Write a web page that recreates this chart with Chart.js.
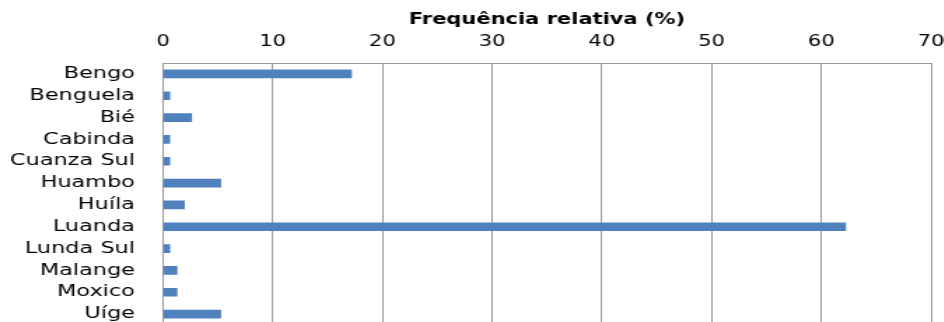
<!DOCTYPE html>
<html>
<head>
<meta charset="utf-8">
<script src="https://cdn.jsdelivr.net/npm/chart.js@4/dist/chart.umd.min.js"></script>
<style>
body{margin:0;background:#fff;overflow:hidden}
.wrap{width:674px;height:325px;transform:scaleX(1.4);transform-origin:0 0}
</style>
</head>
<body>
<div class="wrap"><canvas id="chart"></canvas></div>
<script>
const provincias = ['Bengo','Benguela','Bié','Cabinda','Cuanza Sul','Huambo','Huíla','Luanda','Lunda Sul','Malange','Moxico','Uíge']
const frequencia = [17.22,0.66,2.65,0.66,0.66,5.30,1.99,62.25,0.66,1.32,1.32,5.30]
const tituloEixo = 'Frequência relativa (%)'

const ctx = document.getElementById('chart').getContext('2d')

const myChart = new Chart(ctx, {
    type: 'bar',
    data: {
        labels: provincias,
        datasets: [{
            data: frequencia,
            backgroundColor: '#4f81bd',
            borderWidth: 0,
            barPercentage: 0.4,
            categoryPercentage: 1
        }]
    },
    options: {
        indexAxis: 'y',
        responsive: true,
        maintainAspectRatio: false,
        animation: false,
        layout: {
            padding: {top: 11, right: 9, left: 0, bottom: 0}
        },
        scales: {
            x: {
                position: 'top',
                min: 0,
                max: 70,
                afterFit: function(scale){
                    scale.paddingRight = 0
                    scale.paddingLeft = 0
                },
                ticks: {
                    stepSize: 10,
                    padding: 12,
                    color: '#000',
                    font: {family: 'DejaVu Sans', size: 15}
                },
                grid: {
                    color: '#999',
                    drawTicks: false
                },
                border: {color: '#999'},
                title: {
                    display: true,
                    text: tituloEixo,
                    color: '#000',
                    padding: {top: 0, bottom: -8},
                    font: {family: 'DejaVu Sans', size: 15, weight: 'bold'}
                }
            },
            y: {
                afterFit: function(scale){
                    scale.width = 116.4
                    scale.paddingTop = 0
                    scale.paddingBottom = 0
                },
                ticks: {
                    autoSkip: false,
                    padding: 20,
                    color: '#000',
                    font: {family: 'DejaVu Sans', size: 16}
                },
                grid: {
                    display: false,
                    drawTicks: false
                },
                border: {color: '#999'}
            }
        },
        plugins: {
            legend: {display: false},
            tooltip: {enabled: false}
        }
    }
})
</script>
</body>
</html>
